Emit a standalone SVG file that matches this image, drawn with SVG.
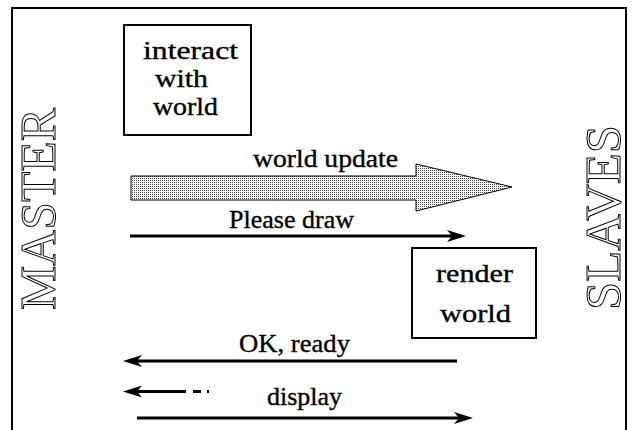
<svg xmlns="http://www.w3.org/2000/svg" width="634" height="430" viewBox="0 0 634 430">
<style>
.t{font-family:"Liberation Serif","DejaVu Serif",serif;font-size:25px;fill:#000;stroke:#000;stroke-width:0.35}
.big{font-family:"Liberation Serif","DejaVu Serif",serif;font-size:50px;fill:#fff;stroke:#000;stroke-width:1}
.box{fill:#fff;stroke:#000;stroke-width:2}
.ln{stroke:#000;stroke-width:3;fill:none}
</style>
<defs>
<pattern id="dots" width="2" height="2" patternUnits="userSpaceOnUse">
<rect width="2" height="2" fill="#fff"/>
<rect width="1" height="1" fill="#444"/>
</pattern>
<path id="ah" d="M0,0 L-19,-6 L-14,0 L-19,6 Z" fill="#000"/>
</defs>
<rect x="12" y="8" width="614" height="440" fill="#fff" stroke="#000" stroke-width="2"/>
<g id="master"><text class="big" transform="translate(55,310) rotate(-90)" textLength="202" lengthAdjust="spacingAndGlyphs">MASTER</text></g>
<g id="slaves"><text class="big" transform="translate(620,310) rotate(-90)" textLength="185" lengthAdjust="spacingAndGlyphs">SLAVES</text></g>
<g id="interact">
<rect class="box" x="124" y="25" width="127" height="110"/>
<text class="t" x="143" y="59" textLength="95" lengthAdjust="spacingAndGlyphs">interact</text>
<text class="t" x="155" y="87" textLength="53" lengthAdjust="spacingAndGlyphs">with</text>
<text class="t" x="153" y="115" textLength="65" lengthAdjust="spacingAndGlyphs">world</text>
</g>
<g id="render">
<rect class="box" x="412" y="248" width="124" height="90"/>
<text class="t" x="436" y="282" textLength="77" lengthAdjust="spacingAndGlyphs">render</text>
<text class="t" x="440" y="322" textLength="71" lengthAdjust="spacingAndGlyphs">world</text>
</g>
<g id="connectors">
<polygon points="131,176 416,176 416,164 512,187 416,211 416,200 131,200" fill="url(#dots)" stroke="#000" stroke-width="1"/>
<text class="t" x="253" y="167" textLength="145" lengthAdjust="spacingAndGlyphs">world update</text>
<line class="ln" x1="130" y1="236" x2="452" y2="236"/>
<use href="#ah" transform="translate(466,236)"/>
<text class="t" x="229" y="228" textLength="125" lengthAdjust="spacingAndGlyphs">Please draw</text>
<line class="ln" x1="457" y1="361" x2="137" y2="361"/>
<use href="#ah" transform="translate(123,361) rotate(180)"/>
<text class="t" x="239" y="352" textLength="111" lengthAdjust="spacingAndGlyphs">OK, ready</text>
<line class="ln" x1="186" y1="391.5" x2="137" y2="391.5"/>
<line class="ln" x1="193" y1="391.5" x2="201" y2="391.5"/>
<line class="ln" x1="207" y1="391.5" x2="209" y2="391.5"/>
<use href="#ah" transform="translate(123,391.5) rotate(180)"/>
<line class="ln" x1="137" y1="418" x2="459" y2="418"/>
<use href="#ah" transform="translate(473,418)"/>
<text class="t" x="267" y="405" textLength="75" lengthAdjust="spacingAndGlyphs">display</text>
</g>
</svg>
